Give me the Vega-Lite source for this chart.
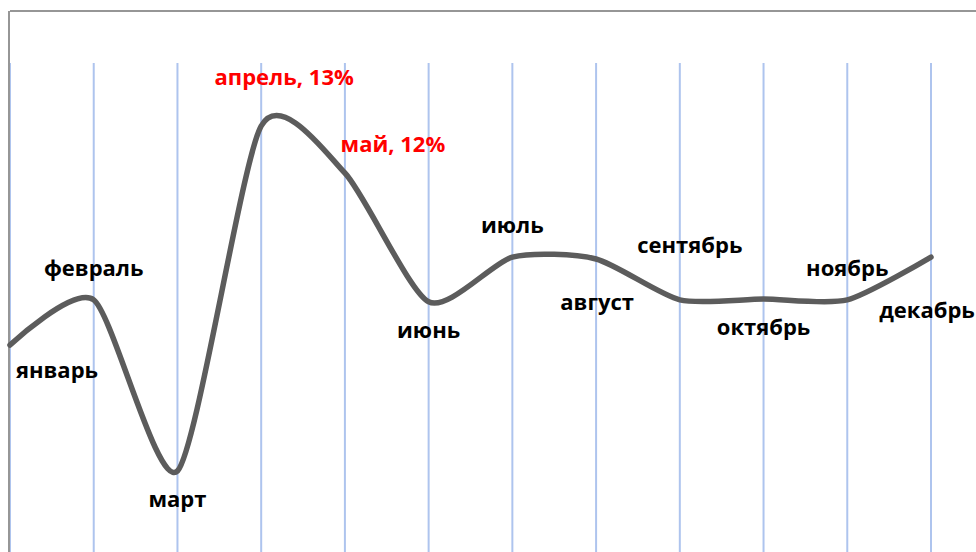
{
  "$schema": "https://vega.github.io/schema/vega-lite/v6.json",
  "width": 966,
  "height": 541,
  "autosize": "none",
  "padding": {"left": 10, "top": 11, "right": 0, "bottom": 0},
  "background": "white",
  "config": {"view": {"stroke": null}},
  "data": {
    "values": [
      {"month": "январь", "n": 1, "value": 8.34, "label": "январь"},
      {"month": "февраль", "n": 2, "value": 9.3, "label": "февраль"},
      {"month": "март", "n": 3, "value": 5.66, "label": "март"},
      {"month": "апрель", "n": 4, "value": 13, "label": "апрель, 13%"},
      {"month": "май", "n": 5, "value": 12, "label": "май, 12%"},
      {"month": "июнь", "n": 6, "value": 9.26, "label": "июнь"},
      {"month": "июль", "n": 7, "value": 10.21, "label": "июль"},
      {"month": "август", "n": 8, "value": 10.17, "label": "август"},
      {"month": "сентябрь", "n": 9, "value": 9.3, "label": "сентябрь"},
      {"month": "октябрь", "n": 10, "value": 9.32, "label": "октябрь"},
      {"month": "ноябрь", "n": 11, "value": 9.3, "label": "ноябрь"},
      {"month": "декабрь", "n": 12, "value": 10.21, "label": "декабрь"}
    ]
  },
  "encoding": {
    "x": {"field": "n", "type": "quantitative", "axis": null,
          "scale": {"domain": [1, 12.5375], "nice": false, "zero": false}},
    "y": {"field": "value", "type": "quantitative", "axis": null,
          "scale": {"domain": [3.936, 15.447], "nice": false, "zero": false}}
  },
  "layer": [
    {
      "mark": {"type": "rule", "color": "#aec4ee", "strokeWidth": 2},
      "encoding": {
        "y": {"datum": 14.341},
        "y2": {"datum": 3.936}
      }
    },
    {
      "mark": {"type": "rule", "color": "#969696", "strokeWidth": 2},
      "encoding": {
        "x": {"datum": 1},
        "x2": {"datum": 12.5375},
        "y": {"datum": 15.447}
      }
    },
    {
      "mark": {"type": "rule", "color": "#969696", "strokeWidth": 2, "xOffset": -1},
      "encoding": {
        "x": {"datum": 1},
        "y": {"datum": 15.447},
        "y2": {"datum": 3.936}
      }
    },
    {
      "mark": {"type": "line", "interpolate": "cardinal", "tension": 0.3,
               "color": "#5c5c5c", "strokeWidth": 5.5, "strokeCap": "round"}
    },
    {
      "transform": [{"filter": {"field": "month", "oneOf": ["февраль", "июль", "ноябрь"]}}],
      "mark": {"type": "text", "font": "Open Sans", "fontWeight": "bold", "fontSize": 22,
               "color": "black", "baseline": "middle", "align": "center", "dy": -31},
      "encoding": {"text": {"field": "label"}}
    },
    {
      "transform": [{"filter": {"field": "month", "oneOf": ["март", "июнь", "октябрь"]}}],
      "mark": {"type": "text", "font": "Open Sans", "fontWeight": "bold", "fontSize": 22,
               "color": "black", "baseline": "middle", "align": "center", "dy": 29},
      "encoding": {"text": {"field": "label"}}
    },
    {
      "transform": [{"filter": {"field": "month", "equal": "январь"}}],
      "mark": {"type": "text", "font": "Open Sans", "fontWeight": "bold", "fontSize": 22,
               "color": "black", "baseline": "middle", "align": "center", "dx": 47, "dy": 26},
      "encoding": {"text": {"field": "label"}}
    },
    {
      "transform": [{"filter": {"field": "month", "equal": "август"}}],
      "mark": {"type": "text", "font": "Open Sans", "fontWeight": "bold", "fontSize": 22,
               "color": "black", "baseline": "middle", "align": "center", "dx": 1, "dy": 44},
      "encoding": {"text": {"field": "label"}}
    },
    {
      "transform": [{"filter": {"field": "month", "equal": "сентябрь"}}],
      "mark": {"type": "text", "font": "Open Sans", "fontWeight": "bold", "fontSize": 22,
               "color": "black", "baseline": "middle", "align": "center", "dx": 10, "dy": -54},
      "encoding": {"text": {"field": "label"}}
    },
    {
      "transform": [{"filter": {"field": "month", "equal": "декабрь"}}],
      "mark": {"type": "text", "font": "Open Sans", "fontWeight": "bold", "fontSize": 22,
               "color": "black", "baseline": "middle", "align": "center", "dx": -4, "dy": 54},
      "encoding": {"text": {"field": "label"}}
    },
    {
      "transform": [{"filter": {"field": "month", "equal": "апрель"}}],
      "mark": {"type": "text", "font": "Open Sans", "fontWeight": "bold", "fontSize": 22,
               "color": "#ff0000", "baseline": "middle", "align": "center", "dx": 23, "dy": -48},
      "encoding": {"text": {"field": "label"}}
    },
    {
      "transform": [{"filter": {"field": "month", "equal": "май"}}],
      "mark": {"type": "text", "font": "Open Sans", "fontWeight": "bold", "fontSize": 22,
               "color": "#ff0000", "baseline": "middle", "align": "center", "dx": 48, "dy": -28},
      "encoding": {"text": {"field": "label"}}
    }
  ]
}
